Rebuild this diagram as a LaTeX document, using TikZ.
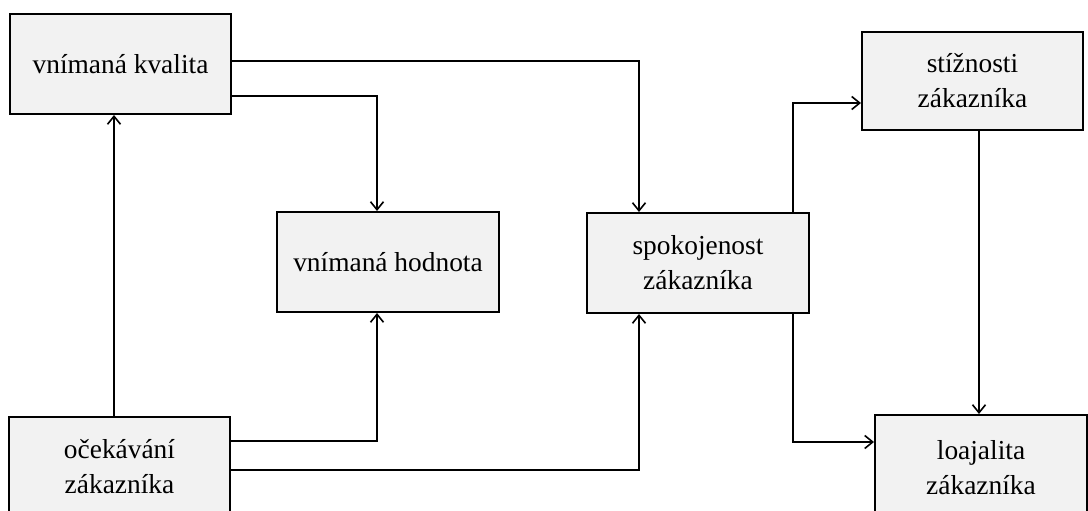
\documentclass[tikz,border=0pt]{standalone}
\usepackage{fontspec}
\setmainfont{Liberation Serif}
\usetikzlibrary{arrows.meta}
\definecolor{boxfill}{HTML}{F2F2F2}
\tikzset{
  box/.style={draw=black, fill=boxfill, line width=2pt, rectangle,
    align=center, inner sep=0pt,
    font=\fontsize{27.4}{35}\selectfont},
  link/.style={draw=black, line width=1.8pt},
  arr/.style={link, -{Straight Barb[length=8pt,width=13pt,line width=1.6pt]}}
}
\begin{document}
\begin{tikzpicture}[x=1pt,y=-1pt]
\useasboundingbox (0,0) rectangle (1088,511);
\begin{scope}
\clip (0,0) rectangle (1088,511);
% boxes
\node[box, minimum width=221pt, minimum height=100pt] (kval) at (120.5,64) {vnímaná kvalita};
\node[box, minimum width=222pt, minimum height=100pt] (hodn) at (388,262) {vnímaná hodnota};
\node[box, minimum width=222pt, minimum height=100pt] (spok) at (698,263) {spokojenost\\zákazníka};
\node[box, minimum width=221pt, minimum height=98pt] (stiz) at (972.5,81) {stížnosti\\zákazníka};
\node[box, minimum width=221pt, minimum height=100pt] (ocek) at (119.5,467) {očekávání\\zákazníka};
\node[box, minimum width=212pt, minimum height=106pt] (loaj) at (981,468) {loajalita\\zákazníka};

% routing guides
\coordinate (xa) at (114,0);
\coordinate (xb) at (377,0);
\coordinate (xc) at (639,0);
\coordinate (xd) at (793,0);
\coordinate (xe) at (979,0);
\coordinate (y1) at (0,61);
\coordinate (y2) at (0,96);
\coordinate (y3) at (0,103);
\coordinate (y4) at (0,441);
\coordinate (y5) at (0,470);
\coordinate (y6) at (0,442);

% connectors
\draw[arr] (ocek.north -| xa) -- (kval.south -| xa);
\draw[arr] (kval.east |- y1) -| (spok.north -| xc);
\draw[arr] (kval.east |- y2) -| (hodn.north -| xb);
\draw[arr] (ocek.east |- y4) -| (hodn.south -| xb);
\draw[arr] (ocek.east |- y5) -| (spok.south -| xc);
\draw[arr] (spok.north -| xd) |- (stiz.west |- y3);
\draw[arr] (spok.south -| xd) |- (loaj.west |- y6);
\draw[arr] (stiz.south -| xe) -- (loaj.north -| xe);
\end{scope}
\end{tikzpicture}
\end{document}
